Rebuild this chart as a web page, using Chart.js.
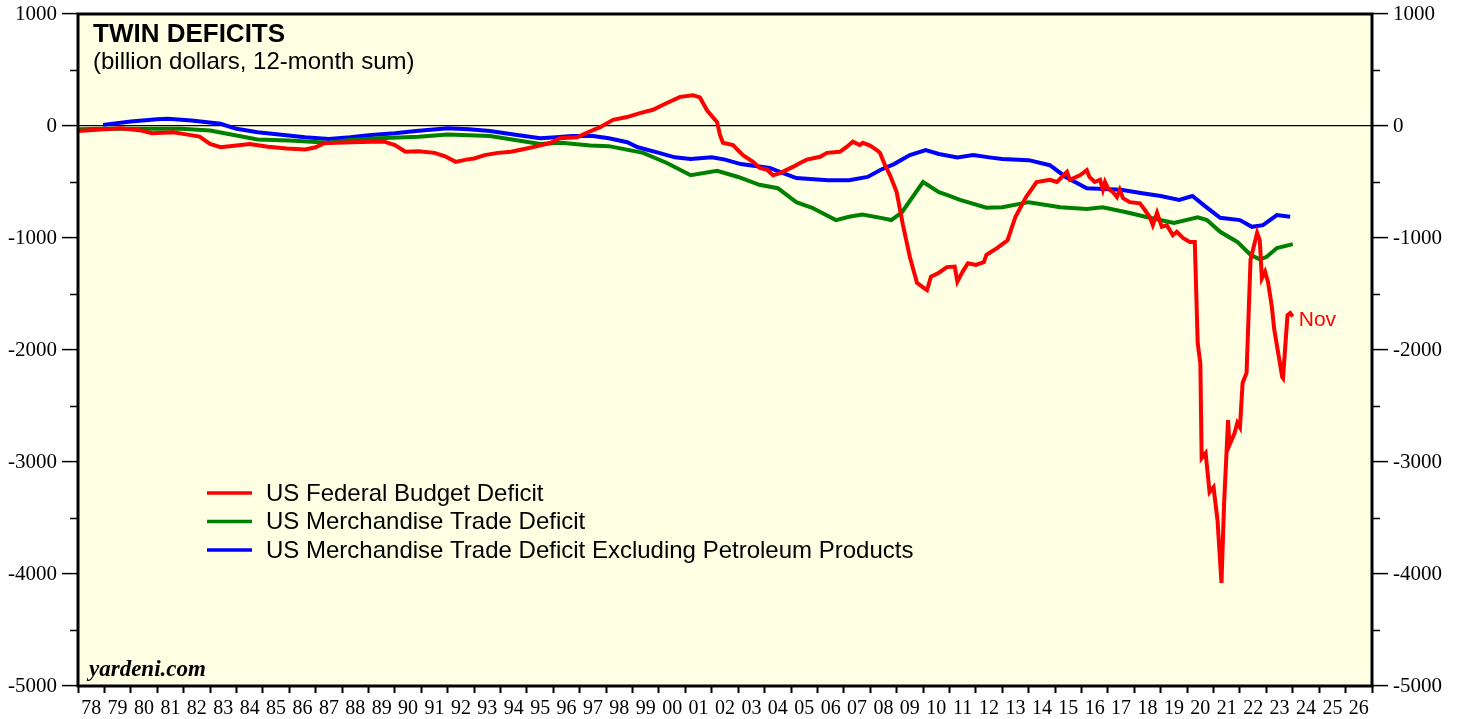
<!DOCTYPE html>
<html>
<head>
<meta charset="utf-8">
<script src="https://cdn.jsdelivr.net/npm/chart.js@4/dist/chart.umd.min.js"></script>
<style>
  html, body { margin: 0; padding: 0; background: #ffffff; }
  #wrap { position: relative; width: 1465px; height: 719px; }
  canvas { display: block; }
</style>
</head>
<body>
<div id="wrap"><canvas id="c" width="1465" height="719"></canvas></div>
<script>
// ---------------- DATA (billion dollars, 12-month sum) ----------------
const yearLabels = ['78','79','80','81','82','83','84','85','86','87','88','89','90','91','92','93','94','95','96','97','98','99','00','01','02','03','04','05','06','07','08','09','10','11','12','13','14','15','16','17','18','19','20','21','22','23','24','25','26'];
const yTickValues = [1000, 0, -1000, -2000, -3000, -4000, -5000];

const budgetDates = [
  1978.0,1979.0,1979.6,1980.4,1980.8,1981.6,1982.1,1982.6,1983.0,1983.4,
  1984.0,1984.5,1985.2,1985.9,1986.6,1987.0,1987.3,1987.8,1988.4,1989.1,
  1989.6,1990.0,1990.4,1990.9,1991.5,1991.9,1992.3,1992.7,1993.0,1993.4,
  1993.9,1994.4,1994.9,1995.4,1995.9,1996.25,1996.9,1997.27,1997.77,1998.26,
  1998.79,1999.28,1999.77,2000.3,2000.8,2001.29,2001.55,2001.82,2002.2,2002.31,
  2002.42,2002.8,2003.18,2003.56,2003.82,2004.09,2004.32,2004.58,2005.07,2005.34,
  2005.6,2006.1,2006.36,2006.85,2007.12,2007.34,2007.6,2007.72,2007.99,2008.25,
  2008.37,2008.56,2008.75,2009.0,2009.24,2009.5,2009.77,2010.0,2010.15,2010.3,
  2010.6,2010.9,2011.2,2011.3,2011.5,2011.7,2012.0,2012.3,2012.4,2012.8,
  2013.2,2013.5,2013.9,2014.3,2014.8,2015.07,2015.45,2015.56,2015.94,2016.2,
  2016.3,2016.5,2016.7,2016.81,2016.89,2017.0,2017.19,2017.34,2017.45,2017.57,
  2017.83,2018.21,2018.4,2018.59,2018.7,2018.86,2019.04,2019.23,2019.46,2019.61,
  2019.84,2020.1,2020.29,2020.4,2020.5,2020.55,2020.7,2020.85,2021.0,2021.15,
  2021.3,2021.4,2021.55,2021.6,2021.8,2021.9,2022.0,2022.1,2022.25,2022.4,
  2022.65,2022.75,2022.83,2022.95,2023.06,2023.2,2023.3,2023.6,2023.63,2023.8,
  2023.9,2024.0];
const budgetValues = [
  -45,-30,-20,-40,-65,-55,-75,-95,-160,-190,
  -175,-160,-185,-200,-210,-190,-155,-150,-145,-140,
  -140,-170,-230,-225,-240,-270,-320,-300,-290,-260,
  -240,-230,-205,-180,-150,-110,-100,-60,-10,55,
  80,115,145,205,260,275,255,140,35,-80,
  -150,-170,-260,-320,-375,-390,-440,-420,-365,-330,
  -300,-275,-240,-230,-185,-140,-170,-150,-175,-215,
  -240,-350,-440,-590,-885,-1170,-1400,-1440,-1465,-1345,
  -1310,-1260,-1255,-1390,-1300,-1225,-1240,-1215,-1150,-1090,
  -1020,-810,-635,-500,-480,-500,-410,-480,-440,-395,
  -455,-500,-480,-570,-500,-555,-590,-635,-570,-645,
  -680,-690,-750,-815,-885,-775,-900,-885,-975,-945,
  -1000,-1035,-1035,-1940,-2120,-2965,-2920,-3270,-3225,-3520,
  -4080,-3365,-2625,-2850,-2740,-2650,-2690,-2295,-2205,-1195,
  -955,-1020,-1360,-1300,-1390,-1600,-1820,-2240,-2250,-1690,
  -1670,-1700];

const tradeDates = [1978.0,1979.0,1980.0,1980.7,1981.9,1983.0,1983.9,1984.8,1986.0,1987.5,1988.3,1989.4,1990.9,1992.0,1993.6,1995.5,1996.3,1997.4,1998.1,1999.4,2000.3,2001.2,2002.2,2003.0,2003.8,2004.5,2005.2,2005.8,2006.7,2007.2,2007.7,2008.4,2008.8,2009.2,2010.0,2010.6,2010.9,2011.4,2012.4,2013.0,2014.0,2015.2,2016.2,2016.8,2017.7,2018.5,2019.5,2020.4,2020.75,2021.25,2021.9,2022.4,2022.75,2023.0,2023.4,2024.0];
const tradeValues = [-30,-25,-25,-25,-25,-40,-80,-120,-130,-150,-125,-110,-95,-75,-90,-160,-150,-175,-180,-240,-330,-440,-400,-455,-525,-555,-680,-730,-840,-810,-790,-820,-840,-770,-500,-590,-615,-660,-730,-725,-680,-725,-740,-725,-770,-815,-865,-815,-840,-945,-1035,-1150,-1190,-1170,-1090,-1055];

const exPetroDates = [1978.95,1980.0,1981.0,1981.4,1982.3,1983.4,1984.0,1984.8,1985.8,1986.6,1987.5,1988.3,1989.1,1990.0,1990.8,1992.0,1992.8,1993.6,1994.5,1995.5,1996.1,1996.7,1997.5,1998.1,1998.8,1999.2,2000.0,2000.6,2001.2,2002.0,2002.5,2003.1,2004.2,2004.7,2005.2,2006.4,2007.2,2007.9,2008.4,2008.9,2009.5,2010.1,2010.6,2011.3,2011.9,2012.5,2013.0,2014.0,2014.8,2015.4,2016.2,2017.5,2018.3,2019.0,2019.7,2020.2,2020.7,2021.25,2022.0,2022.45,2022.87,2023.4,2023.9];
const exPetroValues = [10,40,60,65,50,20,-25,-55,-80,-100,-115,-100,-80,-65,-45,-20,-30,-45,-75,-110,-100,-90,-90,-110,-145,-190,-240,-280,-295,-280,-300,-340,-375,-420,-465,-485,-485,-455,-390,-340,-260,-215,-250,-280,-260,-280,-295,-305,-350,-455,-555,-570,-600,-625,-660,-625,-720,-820,-840,-900,-885,-795,-810];

const seriesNames = ['US Federal Budget Deficit', 'US Merchandise Trade Deficit', 'US Merchandise Trade Deficit Excluding Petroleum Products'];
const seriesColors = ['#ff0000', '#008000', '#0000ff'];
const lastLabel = 'Nov';

// ---------------- CHART ----------------
const toPoints = (xs, ys) => xs.map((x, i) => ({ x: x, y: ys[i] }));
const SERIF = '"Liberation Serif", "Times New Roman", serif';
const SANS = '"Liberation Sans", Arial, sans-serif';
const BG = '#ffffe3';

const decorPlugin = {
  id: 'decor',
  beforeDraw(chart) {
    const { ctx, chartArea: a } = chart;
    ctx.save();
    ctx.fillStyle = '#ffffff';
    ctx.fillRect(0, 0, chart.width, chart.height);
    ctx.fillStyle = BG;
    ctx.fillRect(a.left, a.top, a.right - a.left, a.bottom - a.top);
    ctx.restore();
  },
  afterDraw(chart) {
    const { ctx, chartArea: a } = chart;
    const ys = chart.scales.y;
    ctx.save();
    // minor ticks (every 500 between the labelled 1000s)
    ctx.strokeStyle = '#000';
    ctx.lineWidth = 1.5;
    for (let v = -4500; v < 1000; v += 1000) {
      const py = Math.round(ys.getPixelForValue(v)) + 0.5;
      ctx.beginPath();
      ctx.moveTo(a.left - 8, py); ctx.lineTo(a.left, py);
      ctx.moveTo(a.right, py); ctx.lineTo(a.right + 8, py);
      ctx.stroke();
    }
    // frame
    ctx.lineWidth = 3;
    ctx.strokeStyle = '#000';
    ctx.strokeRect(a.left, a.top, a.right - a.left, a.bottom - a.top);

    // title & subtitle
    ctx.fillStyle = '#000';
    ctx.textAlign = 'left';
    ctx.textBaseline = 'alphabetic';
    ctx.font = 'bold 26px ' + SANS;
    ctx.fillText('TWIN DEFICITS', a.left + 15, 42);
    ctx.font = '24px ' + SANS;
    ctx.fillText('(billion dollars, 12-month sum)', a.left + 15, 69);

    // legend
    const lx = 207, ly = 493, gap = 28.5;
    seriesNames.forEach((name, i) => {
      const y = ly + i * gap;
      ctx.strokeStyle = seriesColors[i];
      ctx.lineWidth = 3.5;
      ctx.beginPath();
      ctx.moveTo(lx, y); ctx.lineTo(lx + 45, y);
      ctx.stroke();
      ctx.fillStyle = '#000';
      ctx.font = '24px ' + SANS;
      ctx.textBaseline = 'middle';
      ctx.fillText(name, lx + 59, y + 1);
    });

    // source
    ctx.textBaseline = 'alphabetic';
    ctx.font = 'italic bold 23px ' + SERIF;
    ctx.fillStyle = '#000';
    ctx.fillText('yardeni.com', a.left + 11, 676);

    // last-point label
    const meta = chart.getDatasetMeta(0);
    const lastPt = meta.data[meta.data.length - 1];
    ctx.fillStyle = seriesColors[0];
    ctx.font = '21px ' + SANS;
    ctx.textBaseline = 'middle';
    ctx.fillText(lastLabel, lastPt.x + 6, lastPt.y + 4);
    ctx.restore();
  }
};

const yAxisCommon = (side) => ({
  type: 'linear',
  position: side,
  min: -5000,
  max: 1000,
  afterBuildTicks: (scale) => { scale.ticks = yTickValues.map(v => ({ value: v })); },
  ticks: {
    color: '#000',
    font: { family: SERIF, size: 21 },
    padding: 5,
    callback: (v) => String(v)
  },
  grid: {
    drawOnChartArea: side === 'left',
    color: (c) => (c.tick && c.tick.value === 0 ? '#000' : 'rgba(0,0,0,0)'),
    lineWidth: 1.2,
    tickColor: '#000',
    tickLength: 16,
    tickWidth: 1.5
  },
  border: { display: false },
  afterFit: (scale) => {
    scale.width = side === 'left' ? 78 : 93;
    scale.paddingTop = 0;
    scale.paddingBottom = 0;
  }
});

new Chart(document.getElementById('c'), {
  type: 'line',
  data: {
    datasets: [
      { label: seriesNames[0], data: toPoints(budgetDates, budgetValues), borderColor: seriesColors[0], borderWidth: 4, pointRadius: 0, tension: 0, order: 1 },
      { label: seriesNames[1], data: toPoints(tradeDates, tradeValues), borderColor: seriesColors[1], borderWidth: 4, pointRadius: 0, tension: 0, order: 2 },
      { label: seriesNames[2], data: toPoints(exPetroDates, exPetroValues), borderColor: seriesColors[2], borderWidth: 4, pointRadius: 0, tension: 0, order: 3 }
    ]
  },
  options: {
    responsive: false,
    animation: false,
    devicePixelRatio: 1,
    layout: { padding: { top: 14, left: 0, right: 0, bottom: 0 } },
    plugins: { legend: { display: false }, tooltip: { enabled: false } },
    scales: {
      x: {
        type: 'linear',
        position: 'bottom',
        min: 1978,
        max: 2027,
        afterBuildTicks: (scale) => { scale.ticks = yearLabels.map((_, i) => ({ value: 1978.5 + i })); },
        ticks: {
          autoSkip: false,
          maxRotation: 0,
          minRotation: 0,
          color: '#000',
          font: { family: SERIF, size: 20 },
          padding: 4,
          callback: (v, i) => yearLabels[i]
        },
        grid: {
          offset: true,
          drawOnChartArea: false,
          tickColor: '#000',
          tickLength: 7,
          tickWidth: 2
        },
        border: { display: false },
        afterFit: (scale) => {
          scale.height = 33;
          scale.paddingLeft = 0;
          scale.paddingRight = 0;
        }
      },
      y: yAxisCommon('left'),
      y2: yAxisCommon('right')
    }
  },
  plugins: [decorPlugin]
});
</script>
</body>
</html>
